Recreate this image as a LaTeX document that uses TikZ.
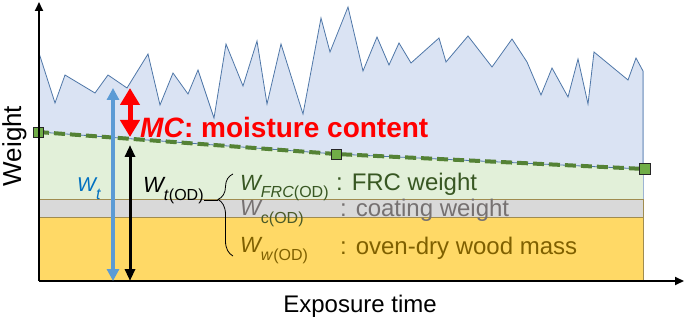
\documentclass[tikz,border=0pt]{standalone}
\usepackage{fontspec}
\setmainfont{Liberation Sans}
\usetikzlibrary{arrows.meta,decorations.pathreplacing,calc}
\definecolor{moistblue}{HTML}{DAE3F3}
\definecolor{jagblue}{HTML}{4F77A8}
\definecolor{edgeblue}{HTML}{9DB4D3}
\definecolor{frcgreen}{HTML}{E2F0D9}
\definecolor{coatgray}{HTML}{D9D9D9}
\definecolor{woodyellow}{HTML}{FFD966}
\definecolor{bandline}{HTML}{A08C50}
\definecolor{trendgreen}{HTML}{548235}
\definecolor{markgreen}{HTML}{70AD47}
\definecolor{darkgreen}{HTML}{385723}
\definecolor{subgreen}{HTML}{4A5A28}
\definecolor{textgray}{HTML}{767171}
\definecolor{woodtext}{HTML}{7F6000}
\definecolor{wtblue}{HTML}{0070C0}
\definecolor{arrowblue}{HTML}{5B9BD5}

\newcommand{\Wlab}[2][22]{{\fontsize{#1}{#1}\selectfont\itshape W}\raisebox{-8pt}{\fontsize{16}{16}\selectfont #2}}

\begin{document}
\begin{tikzpicture}[
    x=1pt, y=-1pt,
    axis/.style={line width=1.8pt, -{Triangle[length=9pt,width=8pt]}},
    band/.style={draw=bandline, line width=0.7pt},
    trend/.style={trendgreen, line width=4pt, dash pattern=on 11pt off 5pt},
    marker/.style={rectangle, draw=black!85, fill=markgreen, minimum size=10pt, inner sep=0pt, line width=0.7pt},
    wtarrow/.style={arrowblue, line width=4pt, {Triangle[length=12pt,width=12pt]}-{Triangle[length=12pt,width=12pt]}},
    odarrow/.style={black, line width=3pt, {Triangle[length=12pt,width=10pt]}-{Triangle[length=12pt,width=10pt]}},
    mcarrow/.style={red, line width=5pt, {Triangle[length=17pt,width=19pt]}-{Triangle[length=17pt,width=19pt]}},
    axislabel/.style={font=\fontsize{24}{28}\selectfont},
    desc/.style={font=\fontsize{24}{28}\selectfont, anchor=base west, inner sep=0pt},
    wlabel/.style={anchor=base west, inner sep=0pt}
]
\useasboundingbox (0,0) rectangle (685,323);

% Key points
\coordinate (origin) at (39,281);
\coordinate (ytip) at (39,2);
\coordinate (xtip) at (684,281);
\coordinate (p1) at (38,132);
\coordinate (p2) at (336,154);
\coordinate (p3) at (645,169);

% Bands: wood, coating, FRC
\fill[woodyellow] (39,217) rectangle (643,281);
\fill[coatgray] (39,199) rectangle (643,217);
\fill[frcgreen] (39,199) -- (p1) -- (p2) -- (643,169) -- (643,199) -- cycle;
\draw[band] (39,199) -- (643,199);
\draw[band] (39,217) -- (643,217);
\draw[band] (643,199) -- (643,281);

% Measured weight (moisture)
\filldraw[fill=moistblue, draw=jagblue, line width=0.8pt, line join=miter]
  (39,132) -- (39,53) -- (55,103) -- (65,75) -- (95,93) -- (108,75) -- (127,88)
  -- (148,54) -- (160,105) -- (173,73) -- (188,94) -- (198,70) -- (214,118)
  -- (226,44) -- (243,86) -- (257,41) -- (267,104) -- (281,44) -- (303,114)
  -- (321,18) -- (330,52) -- (348,7) -- (363,71) -- (377,37) -- (389,65)
  -- (399,43) -- (411,63) -- (439,38) -- (446,62) -- (468,36) -- (492,67)
  -- (512,39) -- (527,62) -- (541,95) -- (552,68) -- (568,97) -- (578,59)
  -- (588,104) -- (594,52) -- (628,80) -- (636,58) -- (643,71)
  -- (643,169) -- (p2) -- cycle;
\draw[edgeblue, line width=0.8pt] (643,71) -- (643,199);

% FRC trend
\draw[trend] (p1) -- (p2) -- (p3);
\node[marker] (m1) at (p1) {};
\node[marker] (m2) at (p2) {};
\node[marker, minimum size=11pt] (m3) at (p3) {};

% Axes
\draw[axis] (origin) -- (ytip);
\draw[axis] (origin) -- (xtip);
\node[axislabel] (xlabel) at (360,306) {Exposure time};
\node[axislabel, font=\fontsize{26}{30}\selectfont, rotate=90, anchor=north, inner sep=0pt] (ylabel) at (2,146) {Weight};

% Arrows
\coordinate (wttop) at (113,88);
\coordinate (wtbot) at (113,281);
\coordinate (mctop) at (130,88);
\coordinate (mcbot) at (130,137);
\coordinate (odtop) at (130,145);
\coordinate (odbot) at (130,281);
\draw[wtarrow] (wtbot) -- (wttop);
\draw[odarrow] (odbot) -- (odtop);
\draw[mcarrow] (mcbot) -- (mctop);

% Labels
\node[wlabel, text=red, font=\fontsize{28}{32}\selectfont\bfseries] (mc) at (140,138) {\textit{MC}: moisture content};
\node[wlabel, text=wtblue] (wt) at (77,192) {\Wlab[20]{\itshape t}};
\node[wlabel] (wtod) at (143,193) {\Wlab{\textit{t}(OD)}};
\node[wlabel, text=darkgreen] (wfrc) at (240,190) {\Wlab{\textit{FRC}(OD)}};
\node[wlabel, text=textgray] (wc) at (240,215) {\Wlab{\color{subgreen}c(OD)}};
\node[wlabel, text=woodtext] (ww) at (240,252) {\Wlab{\textit{w}(OD)}};
\node[desc, text=darkgreen] (frctxt) at (336,190) {: FRC weight};
\node[desc, text=textgray] (coattxt) at (340,216) {: coating weight};
\node[desc, text=woodtext] (woodtxt) at (340,254) {: oven-dry wood mass};

% Brace
\coordinate (bracetip) at (218,200);
\draw[line width=0.8pt, decorate, decoration={brace, amplitude=15pt, aspect=0.69}] (233,256) -- (233,174);
\draw[line width=0.8pt] (wtod.east |- bracetip) -- (bracetip);

\end{tikzpicture}
\end{document}
